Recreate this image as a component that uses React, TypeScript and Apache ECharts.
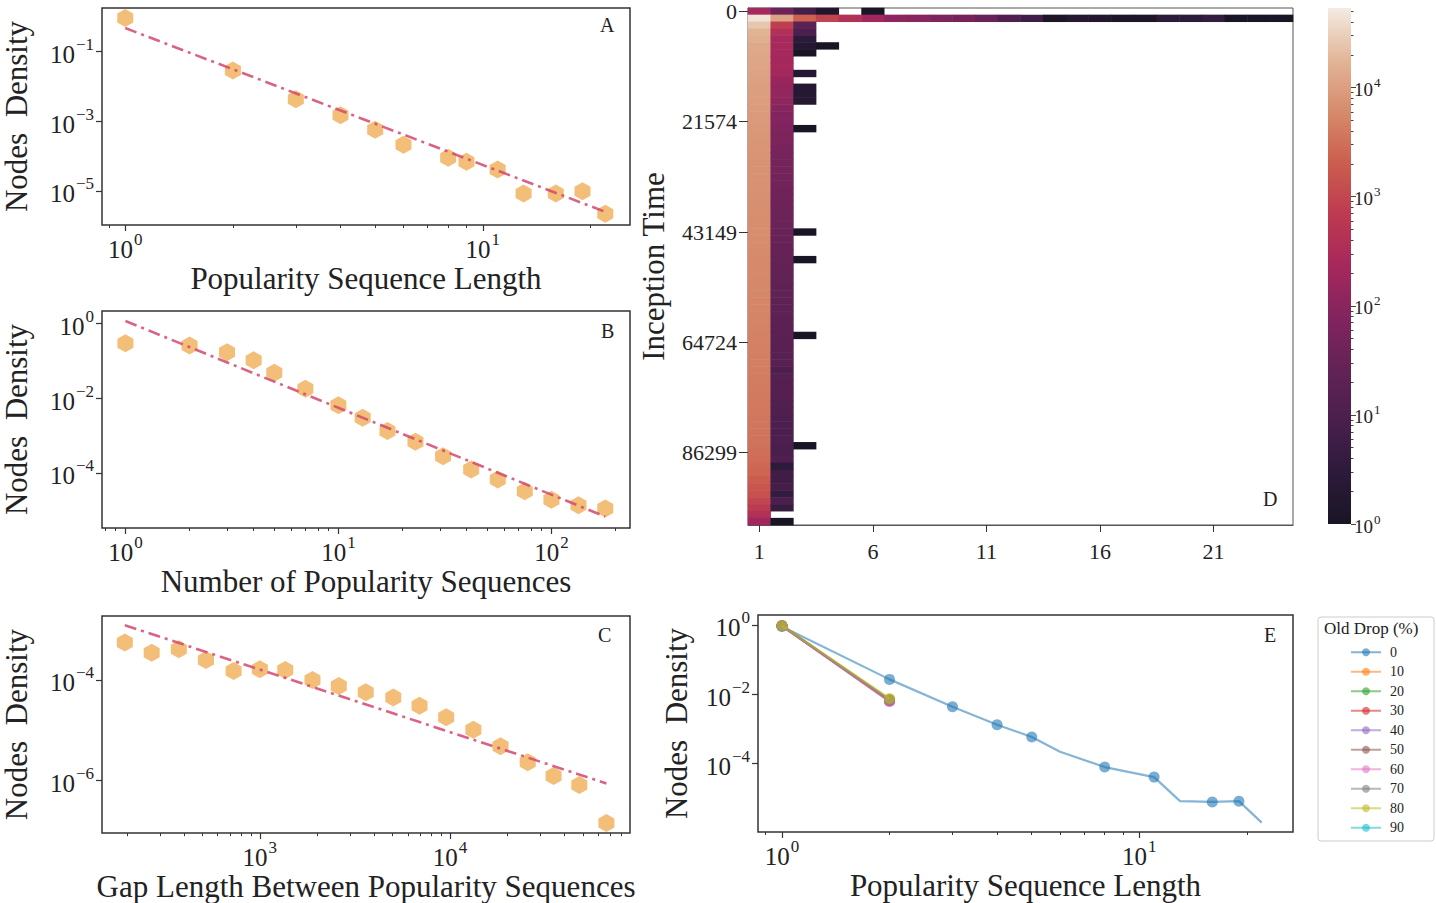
import React, { useEffect, useRef } from 'react';
import * as echarts from 'echarts';

const FONT = '"Liberation Serif", "DejaVu Serif", serif';
const INK = '#222';

// ---------- Panel A ----------
const aLength = [1, 2, 3, 4, 5, 6, 8, 9, 11, 13, 16, 19, 22];
const aDensity = [0.9, 0.028, 0.0042, 0.00145, 5.6e-4, 2.1e-4, 8.9e-5, 6.8e-5, 4.1e-5, 8.3e-6, 8.3e-6, 9.7e-6, 2.2e-6];
const aFitX = [1, 22];
const aFitY = [0.46, 2.5e-6];

// ---------- Panel B ----------
const bCount = [1, 2, 3, 4, 5, 7, 10, 13, 17, 23, 31, 42, 56, 75, 100, 134, 179];
const bDensity = [0.3, 0.26, 0.17, 0.104, 0.048, 0.018, 0.0065, 0.003, 0.00133, 6.8e-4, 2.8e-4, 1.23e-4, 6.6e-5, 3.2e-5, 1.9e-5, 1.35e-5, 1.1e-5];
const bFitX = [1, 179];
const bFitY = [1.18, 6.7e-6];

// ---------- Panel C ----------
const cGap = [195, 270, 375, 521, 728, 1000, 1361, 1892, 2603, 3608, 5035, 6918, 9550, 13280, 18450, 25650, 35080, 47900, 66500];
const cDensity = [5.6e-4, 3.5e-4, 4.1e-4, 2.5e-4, 1.5e-4, 1.63e-4, 1.58e-4, 1e-4, 7.6e-5, 5.7e-5, 4.46e-5, 3.05e-5, 1.8e-5, 1.02e-5, 4.8e-6, 2.3e-6, 1.22e-6, 8.1e-7, 1.41e-7];
const cFitX = [195, 66500];
const cFitY = [1.23e-3, 8.7e-7];

// ---------- Panel D (heatmap) ----------
const dColumns = ['1', '2', '3', '4', '5', '6', '7', '8', '9', '10', '11', '12', '13', '14', '15', '16', '17', '18', '19', '20', '21', '22', '23', '24'];
const dRowCount = 75;
const dTickLabels = ['0', '21574', '43149', '64724', '86299'];
const dTickEvery = 16;
// row 0 and row 1 across columns
const dRow0 = [230, 35, 7, 1.4, null, 1];
const dRow1 = [45000, 11000, 2200, 900, 400, 200, 110, 90, 63, 52, 32, 11, 6, 1.2, 2, 1.7, 1.2, 1.2, 3, 3, 4, 1, 1, 1];
// column 1, rows 2..74
const dCol1 = [
  25000, 17000, 15000, 13000, 12500, 12000, 11500, 11000, 10500,
  10000, 9800, 9500, 9200, 9000, 8700, 8500, 8200, 8000, 7800,
  7600, 7400, 7300, 7200, 7100, 7000, 6900, 6800, 6700, 6600,
  6500, 6400, 6300, 6200, 6100, 6000, 5900, 5800, 5700, 5600,
  5500, 5400, 5300, 5200, 5100, 5000, 4900, 4800, 4700, 4600,
  4500, 4400, 4300, 4200, 4100, 4000, 3900, 3800, 3700, 3600,
  3500, 3400, 3300, 3100, 2900, 2600, 2400, 2000, 1600, 1400,
  1000, 700, 400, 200,
];
// column 2, rows 2..74
const dCol2 = [
  800, 400, 250, 240, 230, 220, 230, 210, 150,
  140, 130, 120, 90, 80, 75, 70, 66, 60, 55,
  52, 50, 48, 46, 44, 42, 40, 38, 36, 35,
  34, 32, 30, 29, 28, 27, 26, 25, 24, 23,
  22, 21, 21, 20, 19, 18, 18, 17, 17, 16,
  16, 10, 15, 14, 14, 13, 12, 11, 10, 10,
  9, 10, 9, 9, 11, 3, 6, 6, 7, 3.5,
  9, 4.5, null, 1,
];
// sparse cells of columns 3 and 4: [row, count]
const dCol3 = [[2, 20], [3, 10], [4, 3], [5, 2], [6, 1], [9, 2], [11, 2], [12, 2], [13, 2], [17, 1], [32, 1], [36, 1], [47, 1], [63, 1]];
const dCol4 = [[5, 1]];
const dColorMaxExp = 4.73;
const dColorTicks = [0, 1, 2, 3, 4];
const rocket = ['#1a1525', '#2c1a3b', '#4a1f4d', '#632255', '#82245f', '#a6285c', '#bd3a50', '#cb5e4e', '#d68b6c', '#e2b698', '#f4ebe3'];

// ---------- Panel E ----------
const eLength = [1, 2, 3, 4, 5, 6, 8, 11, 13, 16, 19, 22];
const eDensity0 = [0.9, 0.027, 0.0044, 0.00133, 5.9e-4, 2.2e-4, 8e-5, 4.1e-5, 8.3e-6, 7.9e-6, 8.3e-6, 2e-6];
const eUnmarked = [6, 13, 22];
const eDrops = ['0', '10', '20', '30', '40', '50', '60', '70', '80', '90'];
const eOtherX = [1, 2];
const eOtherStart = [0.95, 0.95, 0.95, 0.95, 0.95, 0.95, 0.95, 0.96, 0.97];
const eOtherEnd = [0.007, 0.0068, 0.0066, 0.0064, 0.0063, 0.0062, 0.0071, 0.0076, null];
const tab10 = ['31,119,180', '255,127,14', '44,160,44', '214,39,40', '148,103,189', '140,86,75', '227,119,194', '127,127,127', '188,189,34', '23,190,207'];

const L = Math.log10;

function supFmt(v: number) {
  const n = Math.round(v);
  return '{b|10}{s|' + (n < 0 ? '\u2212' + -n : String(n)) + '}';
}
function rich(big: number, small: number) {
  return {
    b: { fontFamily: FONT, fontSize: big, color: INK, lineHeight: Math.round(big * 1.22), verticalAlign: 'bottom' },
    s: { fontFamily: FONT, fontSize: small, color: INK, lineHeight: small, verticalAlign: 'top', padding: [0, 0, 0, 1] },
  };
}
function minorTicks(min: number, max: number) {
  const out: number[] = [];
  for (let e = Math.floor(min) - 1; e <= Math.ceil(max); e++) {
    for (let k = 2; k <= 9; k++) {
      const v = e + L(k);
      if (v >= min && v <= max) out.push(v);
    }
  }
  return out;
}
function mainX(grid: number, min: number, max: number, labels: number[], name: string, nameGap: number) {
  return {
    type: 'value', gridIndex: grid, min, max, position: 'bottom',
    axisLine: { show: false, onZero: false },
    splitLine: { show: false },
    axisTick: { show: true, customValues: labels, length: 6, lineStyle: { color: '#333', width: 1.2 } },
    axisLabel: { customValues: labels, formatter: supFmt, rich: rich(25, 17), margin: 6 },
    name, nameLocation: 'middle', nameGap,
    nameTextStyle: { fontFamily: FONT, fontSize: 31, color: INK },
  };
}
function minorX(grid: number, min: number, max: number) {
  return {
    type: 'value', gridIndex: grid, min, max, position: 'bottom',
    axisLine: { show: false, onZero: false }, splitLine: { show: false }, axisLabel: { show: false },
    axisTick: { show: true, customValues: minorTicks(min, max), length: 3, lineStyle: { color: '#333', width: 1 } },
  };
}
function mainY(grid: number, min: number, max: number, labels: number[], nameGap: number) {
  return {
    type: 'value', gridIndex: grid, min, max, position: 'left',
    axisLine: { show: false, onZero: false }, splitLine: { show: false },
    axisTick: { show: true, customValues: labels, length: 6, lineStyle: { color: '#333', width: 1.2 } },
    axisLabel: { customValues: labels, formatter: supFmt, rich: rich(25, 17), margin: 8 },
    name: 'Nodes  Density', nameLocation: 'middle', nameGap,
    nameTextStyle: { fontFamily: FONT, fontSize: 31, color: INK },
  };
}

const HEX = 'path://M50,0 L93.3,25 L93.3,75 L50,100 L6.7,75 L6.7,25 Z';
function scatter(xi: number, yi: number, xs: number[], ys: number[]) {
  return {
    type: 'scatter', xAxisIndex: xi, yAxisIndex: yi,
    data: xs.map((x, i) => [L(x), L(ys[i])]),
    symbol: HEX, symbolSize: [16, 18],
    itemStyle: { color: 'rgba(238,160,58,0.86)' },
    z: 2,
  };
}
function fit(xi: number, yi: number, xs: number[], ys: number[]) {
  return {
    type: 'line', xAxisIndex: xi, yAxisIndex: yi,
    data: xs.map((x, i) => [L(x), L(ys[i])]),
    showSymbol: false, symbol: 'none',
    lineStyle: { color: 'rgba(212,72,112,0.85)', width: 2.6, type: [12, 5, 3, 5] },
    z: 3,
  };
}

function heatData() {
  const out: any[] = [];
  dRow0.forEach((v, c) => { if (v != null) out.push([c, 0, L(v)]); });
  dRow1.forEach((v, c) => { if (v != null) out.push([c, 1, L(v)]); });
  dCol1.forEach((v, i) => { if (v != null) out.push([0, i + 2, L(v)]); });
  dCol2.forEach((v, i) => { if (v != null) out.push([1, i + 2, L(v)]); });
  dCol3.forEach(([r, v]) => out.push([2, r, L(v)]));
  dCol4.forEach(([r, v]) => out.push([3, r, L(v)]));
  return out;
}

export default function App() {
  const ref = useRef<HTMLDivElement>(null);
  useEffect(() => {
    if (!ref.current) return;
    const chart = echarts.init(ref.current, null, { renderer: 'svg' });
    const rows = Array.from({ length: dRowCount }, (_, i) => String(i));
    const aX = [L(0.861), L(25.8)], aY = [-5.98, 0.238];
    const bX = [-0.11, 2.369], bY = [-5.48, 0.339];
    const cX = [2.17, 4.947], cY = [-7.05, -2.726];
    const eX = [-0.067, 1.43], eY = [-5.97, 0.288];

    const eSeries: any[] = eDrops.map((name, k) => {
      const rgb = tab10[k];
      let data: any[];
      if (k === 0) {
        data = eLength.map((x, i) => {
          const p = [L(x), L(eDensity0[i])];
          return eUnmarked.includes(x) ? { value: p, symbol: 'none' } : p;
        });
      } else {
        const a = eOtherStart[k - 1], b = eOtherEnd[k - 1];
        data = b == null ? [] : [[L(eOtherX[0]), L(a)], [L(eOtherX[1]), L(b)]];
      }
      return {
        type: 'line', name, xAxisIndex: 8, yAxisIndex: 6, data,
        symbol: 'circle', symbolSize: 11,
        lineStyle: { color: `rgba(${rgb},0.55)`, width: 2.2 },
        itemStyle: { color: `rgba(${rgb},0.6)` },
        z: 2 + k,
      };
    });

    const gradStops = rocket.map((c, i) => ({ offset: i / (rocket.length - 1), color: c }));

    const option: any = {
      animation: false,
      backgroundColor: '#fff',
      textStyle: { fontFamily: FONT },
      grid: [
        { left: 96, top: 8, width: 534, height: 217, show: true, borderColor: '#333', borderWidth: 1.5 },
        { left: 96, top: 311, width: 534, height: 217, show: true, borderColor: '#333', borderWidth: 1.5 },
        { left: 96, top: 616, width: 534, height: 218, show: true, borderColor: '#333', borderWidth: 1.5 },
        { left: 748, top: 8, width: 545, height: 517, show: true, borderColor: '#555', borderWidth: 1 },
        { left: 1328, top: 8, width: 23, height: 516, show: false },
        { left: 758, top: 615, width: 535, height: 217, show: true, borderColor: '#333', borderWidth: 1.5 },
      ],
      xAxis: [
        mainX(0, aX[0], aX[1], [0, 1], 'Popularity Sequence Length', 38),
        minorX(0, aX[0], aX[1]),
        mainX(1, bX[0], bX[1], [0, 1, 2], 'Number of Popularity Sequences', 36),
        minorX(1, bX[0], bX[1]),
        mainX(2, cX[0], cX[1], [3, 4], 'Gap Length Between Popularity Sequences', 36),
        minorX(2, cX[0], cX[1]),
        {
          type: 'category', gridIndex: 3, data: dColumns, position: 'bottom',
          axisLine: { show: true, onZero: false, lineStyle: { color: '#555' } },
          axisTick: { show: true, alignWithLabel: true, interval: (i: number) => i % 5 === 0, length: 7, lineStyle: { color: '#333' } },
          axisLabel: { interval: (i: number) => i % 5 === 0, fontFamily: FONT, fontSize: 22, color: INK, margin: 15 },
          splitLine: { show: false },
        },
        { type: 'category', gridIndex: 4, data: [''], show: false },
        mainX(5, eX[0], eX[1], [0, 1], 'Popularity Sequence Length', 36),
        minorX(5, eX[0], eX[1]),
      ],
      yAxis: [
        mainY(0, aY[0], aY[1], [-1, -3, -5], 70),
        mainY(1, bY[0], bY[1], [0, -2, -4], 70),
        mainY(2, cY[0], cY[1], [-4, -6], 70),
        {
          type: 'category', gridIndex: 3, data: rows, inverse: true, position: 'left',
          axisLine: { show: true, onZero: false, lineStyle: { color: '#555' } },
          axisTick: { show: true, alignWithLabel: true, interval: (i: number) => i % dTickEvery === 0, length: 9, lineStyle: { color: '#333' } },
          axisLabel: {
            interval: (i: number) => i % dTickEvery === 0,
            formatter: (_v: string, i: number) => dTickLabels[i / dTickEvery] ?? '',
            fontFamily: FONT, fontSize: 22, color: INK, margin: 11,
          },
          name: 'Inception Time', nameLocation: 'middle', nameGap: 79,
          nameTextStyle: { fontFamily: FONT, fontSize: 31, color: INK },
        },
        {
          type: 'value', gridIndex: 4, min: 0, max: dColorMaxExp, position: 'right',
          axisLine: { show: false, onZero: false }, splitLine: { show: false },
          axisTick: { show: true, customValues: dColorTicks, length: 5, lineStyle: { color: '#444' } },
          axisLabel: { customValues: dColorTicks, formatter: supFmt, rich: rich(19, 13), margin: 3 },
        },
        {
          type: 'value', gridIndex: 4, min: 0, max: dColorMaxExp, position: 'right',
          axisLine: { show: false, onZero: false }, splitLine: { show: false }, axisLabel: { show: false },
          axisTick: { show: true, customValues: minorTicks(0, dColorMaxExp), length: 2.5, lineStyle: { color: '#444' } },
        },
        mainY(5, eY[0], eY[1], [0, -2, -4], 66),
      ],
      visualMap: {
        type: 'continuous', min: 0, max: dColorMaxExp, dimension: 2, seriesIndex: 6, show: false,
        inRange: { color: rocket },
      },
      legend: {
        data: eDrops, orient: 'vertical', left: 1318, top: 617,
        padding: [28, 30, 6, 32], itemGap: 5, itemWidth: 30, itemHeight: 10,
        borderColor: '#ccc', borderWidth: 1, borderRadius: 3,
        textStyle: { fontFamily: FONT, fontSize: 14, color: INK, lineHeight: 14.5, padding: [0, 0, 0, 4] },
      },
      graphic: [
        { type: 'text', z: 100, left: 600, top: 15, style: { text: 'A', fontFamily: FONT, fontSize: 20, fill: INK } },
        { type: 'text', z: 100, left: 601, top: 321, style: { text: 'B', fontFamily: FONT, fontSize: 20, fill: INK } },
        { type: 'text', z: 100, left: 598, top: 625, style: { text: 'C', fontFamily: FONT, fontSize: 20, fill: INK } },
        { type: 'text', z: 100, left: 1263, top: 489, style: { text: 'D', fontFamily: FONT, fontSize: 20, fill: INK } },
        { type: 'text', z: 100, left: 1264, top: 625, style: { text: 'E', fontFamily: FONT, fontSize: 20, fill: INK } },
        { type: 'text', z: 100, left: 1324, top: 620, style: { text: 'Old Drop (%)', fontFamily: FONT, fontSize: 17, fill: INK } },
      ],
      series: [
        scatter(0, 0, aLength, aDensity),
        fit(0, 0, aFitX, aFitY),
        scatter(2, 1, bCount, bDensity),
        fit(2, 1, bFitX, bFitY),
        scatter(4, 2, cGap, cDensity),
        fit(4, 2, cFitX, cFitY),
        {
          type: 'heatmap', xAxisIndex: 6, yAxisIndex: 3, data: heatData(),
          itemStyle: { borderWidth: 0 },
        },
        {
          type: 'bar', xAxisIndex: 7, yAxisIndex: 4, data: [dColorMaxExp], barWidth: '100%',
          itemStyle: { color: new echarts.graphic.LinearGradient(0, 1, 0, 0, gradStops) },
          silent: true,
        },
        ...eSeries,
      ],
    };
    chart.setOption(option);
    return () => chart.dispose();
  }, []);
  return <div ref={ref} style={{ position: 'absolute', left: 0, top: 0, width: 1436, height: 903, background: '#fff' }} />;
}
